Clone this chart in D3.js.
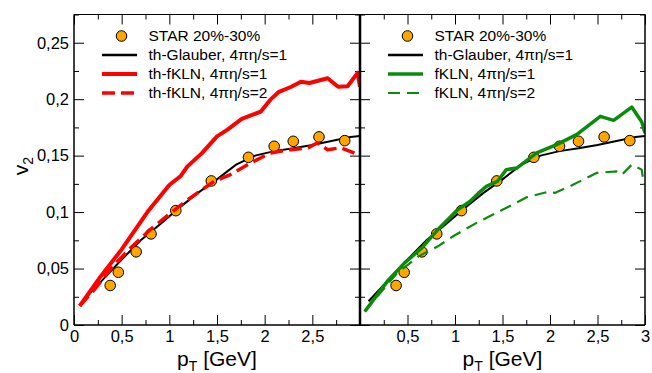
<!DOCTYPE html>
<html lang="en">
<head>
<meta charset="utf-8">
<title>v2 vs pT</title>
<script src="https://d3js.org/d3.v7.min.js"></script>
<style>
  body { margin: 0; background: #fff; }
  svg { font-family: "Liberation Sans", Arial, sans-serif; }
</style>
</head>
<body>
<script>
// STAR 20%-30% data
var starPt = [0.38, 0.465, 0.652, 0.808, 1.068, 1.44, 1.83, 2.10, 2.30, 2.57, 2.84];
var starV2 = [0.035, 0.0467, 0.0648, 0.0807, 0.1013, 0.1276, 0.1485, 0.1583, 0.1627, 0.1666, 0.1633];

// th-Glauber, 4 pi eta/s = 1 (both panels)
var glauberPt = [0.09, 0.3, 0.5, 0.7, 0.9, 1.1, 1.3, 1.5, 1.7, 1.9, 2.1, 2.3, 2.5, 2.7, 2.9, 3.0];
var glauberV2 = [0.021, 0.040, 0.058, 0.075, 0.089, 0.1035, 0.117, 0.129, 0.142, 0.150, 0.154, 0.1565, 0.1595, 0.163, 0.1665, 0.1675];

// th-fKLN, 4 pi eta/s = 1 (left, red solid)
var thKln1Pt = [0.06, 0.28, 0.5, 0.77, 1.0, 1.12, 1.19, 1.34, 1.5, 1.61, 1.76, 1.96, 2.06, 2.15, 2.28, 2.38, 2.47, 2.66, 2.77, 2.87, 2.975, 3.0];
var thKln1V2 = [0.017, 0.043, 0.067, 0.100, 0.124, 0.132, 0.1405, 0.152, 0.167, 0.173, 0.1825, 0.189, 0.1996, 0.2065, 0.211, 0.2155, 0.2143, 0.2185, 0.211, 0.2115, 0.2233, 0.211];

// th-fKLN, 4 pi eta/s = 2 (left, red dashed)
var thKln2Pt = [0.06, 0.2, 0.41, 0.59, 0.8, 1.01, 1.22, 1.47, 1.64, 1.82, 2.06, 2.27, 2.45, 2.55, 2.66, 2.8, 2.975, 3.0];
var thKln2V2 = [0.017, 0.030, 0.052, 0.068, 0.0845, 0.099, 0.1126, 0.1273, 0.1332, 0.142, 0.1524, 0.1553, 0.1568, 0.1612, 0.1553, 0.157, 0.151, 0.150];

// fKLN, 4 pi eta/s = 1 (right, green solid)
var kln1Pt = [0.05, 0.3, 0.47, 0.65, 0.82, 1.03, 1.16, 1.25, 1.33, 1.45, 1.54, 1.65, 1.86, 2.07, 2.28, 2.53, 2.67, 2.86, 2.965, 3.0];
var kln1V2 = [0.012, 0.040, 0.055, 0.0683, 0.0845, 0.1022, 0.1096, 0.117, 0.1228, 0.1275, 0.1376, 0.139, 0.1524, 0.1597, 0.1686, 0.1848, 0.1812, 0.193, 0.180, 0.170];

// fKLN, 4 pi eta/s = 2 (right, green dashed)
var kln2Pt = [0.05, 0.39, 0.62, 0.82, 0.98, 1.1, 1.25, 1.5, 1.75, 2.0, 2.05, 2.21, 2.49, 2.7, 2.755, 2.86, 2.965, 2.99];
var kln2V2 = [0.012, 0.046, 0.061, 0.0697, 0.0786, 0.0845, 0.0915, 0.102, 0.113, 0.1184, 0.117, 0.1228, 0.1347, 0.136, 0.133, 0.142, 0.1376, 0.124];

var xMajor = [0, 0.5, 1, 1.5, 2, 2.5, 3];
var xMinor = [0.25, 0.75, 1.25, 1.75, 2.25, 2.75];
var yMajor = [0, 0.05, 0.1, 0.15, 0.2, 0.25];
var yMinor = [0.025, 0.075, 0.125, 0.175, 0.225, 0.275];

var width = 652, height = 373;
var yTop = 14.5, yBot = 325;

var svg = d3.select("body").append("svg")
    .attr("width", width)
    .attr("height", height);

var y = d3.scaleLinear().domain([0, 0.275]).range([yBot, yTop]);

function zip(xs, ys) { return xs.map(function(d, i) { return [d, ys[i]]; }); }
function fmt(d) { return String(+d.toFixed(3)).replace(".", ","); }

var panels = [
  { x0: 74, x1: 360, xLabels: [0, 0.5, 1, 1.5, 2, 2.5], yLabels: true,
    curves: [
      { data: zip(thKln1Pt, thKln1V2), color: "#ff0000", w: 4, dash: null, label: "th-fKLN, 4πη/s=1" },
      { data: zip(thKln2Pt, thKln2V2), color: "#ff0000", w: 3.5, dash: "13,6", label: "th-fKLN, 4πη/s=2" }
    ] },
  { x0: 360, x1: 645, xLabels: [0.5, 1, 1.5, 2, 2.5, 3], yLabels: false,
    curves: [
      { data: zip(kln1Pt, kln1V2), color: "#0a8c0a", w: 3.5, dash: null, label: "fKLN, 4πη/s=1" },
      { data: zip(kln2Pt, kln2V2), color: "#0a8c0a", w: 2.2, dash: "12,7", label: "fKLN, 4πη/s=2" }
    ] }
];

panels.forEach(function(p) {
  var x = d3.scaleLinear().domain([0, 3]).range([p.x0, p.x1]);
  var g = svg.append("g");

  // ticks on all four sides, pointing inward
  function axis(gen, scale, vals, size, labels, tx, ty) {
    var a = g.append("g")
      .attr("transform", "translate(" + tx + "," + ty + ")")
      .call(gen(scale).tickValues(vals).tickSize(-size).tickPadding(labels ? 5 : 0)
        .tickFormat(function(d) { return labels && labels.indexOf(d) >= 0 ? fmt(d) : ""; }));
    a.select(".domain").remove();
    a.selectAll("line").attr("stroke", "#000").attr("stroke-width", 1);
    a.selectAll("text").attr("font-size", 16.5).attr("fill", "#000")
      .attr("font-family", "Liberation Sans, Arial, sans-serif");
    return a;
  }
  axis(d3.axisBottom, x, xMajor, 10, p.xLabels, 0, yBot);
  axis(d3.axisBottom, x, xMinor, 5, null, 0, yBot);
  axis(d3.axisTop, x, xMajor, 10, null, 0, yTop);
  axis(d3.axisTop, x, xMinor, 5, null, 0, yTop);
  axis(d3.axisLeft, y, yMajor, 10, p.yLabels ? yMajor : null, p.x0, 0);
  axis(d3.axisLeft, y, yMinor, 5, null, p.x0, 0);
  axis(d3.axisRight, y, yMajor, 10, null, p.x1, 0);
  axis(d3.axisRight, y, yMinor, 5, null, p.x1, 0);

  var line = d3.line()
      .x(function(d) { return x(d[0]); })
      .y(function(d) { return y(d[1]); });

  var clip = "clip" + p.x0;
  svg.append("clipPath").attr("id", clip).append("rect")
      .attr("x", p.x0).attr("y", yTop).attr("width", p.x1 - p.x0).attr("height", yBot - yTop);
  var plot = g.append("g").attr("clip-path", "url(#" + clip + ")");

  plot.append("path")
      .attr("d", line(zip(glauberPt, glauberV2)))
      .attr("fill", "none").attr("stroke", "#000").attr("stroke-width", 2);

  plot.selectAll("circle")
      .data(zip(starPt, starV2))
      .enter().append("circle")
      .attr("cx", function(d) { return x(d[0]); })
      .attr("cy", function(d) { return y(d[1]); })
      .attr("r", 5.3)
      .attr("fill", "#ffa500").attr("stroke", "#000").attr("stroke-width", 1);

  p.curves.forEach(function(c) {
    plot.append("path")
        .attr("d", line(c.data))
        .attr("fill", "none").attr("stroke", c.color).attr("stroke-width", c.w)
        .attr("stroke-dasharray", c.dash)
        .attr("stroke-linejoin", "round");
  });

  // legend
  var lg = g.append("g").attr("font-size", 15.5).attr("fill", "#000");
  var rows = [
    { label: "STAR 20%-30%", mark: "circle" },
    { label: "th-Glauber, 4πη/s=1", color: "#000", w: 2.5, dash: null },
    p.curves[0], p.curves[1]
  ];
  rows.forEach(function(r, i) {
    var by = 41 + i * 19, my = by - 5;
    if (r.mark === "circle") {
      lg.append("circle").attr("cx", p.x0 + 47.5).attr("cy", my).attr("r", 5.3)
        .attr("fill", "#ffa500").attr("stroke", "#000").attr("stroke-width", 1);
    } else {
      lg.append("line").attr("x1", p.x0 + 28).attr("x2", p.x0 + 63)
        .attr("y1", my).attr("y2", my)
        .attr("stroke", r.color).attr("stroke-width", r.w).attr("stroke-dasharray", r.dash);
    }
    lg.append("text").attr("x", p.x0 + 74.5).attr("y", by).text(r.label);
  });

  // x axis title
  var t = g.append("text")
      .attr("x", (p.x0 + p.x1) / 2).attr("y", 366)
      .attr("text-anchor", "middle").attr("font-size", 21);
  t.append("tspan").text("p");
  t.append("tspan").attr("font-size", 14).attr("dy", 5).text("T");
  t.append("tspan").attr("dy", -5).text(" [GeV]");
});

// frame
var frame = svg.append("g").attr("stroke", "#000").attr("fill", "none");
frame.append("line").attr("x1", 74).attr("x2", 645).attr("y1", yTop).attr("y2", yTop).attr("stroke-width", 1);
frame.append("line").attr("x1", 74).attr("x2", 645).attr("y1", yBot).attr("y2", yBot).attr("stroke-width", 1.5);
frame.append("line").attr("x1", 74).attr("x2", 74).attr("y1", yTop).attr("y2", yBot).attr("stroke-width", 1.5);
frame.append("line").attr("x1", 645).attr("x2", 645).attr("y1", yTop).attr("y2", yBot).attr("stroke-width", 1.5);
frame.append("line").attr("x1", 360).attr("x2", 360).attr("y1", yTop).attr("y2", yBot).attr("stroke-width", 2.5);

// y axis title
var yt = svg.append("text")
    .attr("transform", "translate(28,166) rotate(-90)")
    .attr("text-anchor", "middle").attr("font-size", 21);
yt.append("tspan").text("v");
yt.append("tspan").attr("font-size", 14).attr("dy", 5).text("2");
</script>
</body>
</html>
